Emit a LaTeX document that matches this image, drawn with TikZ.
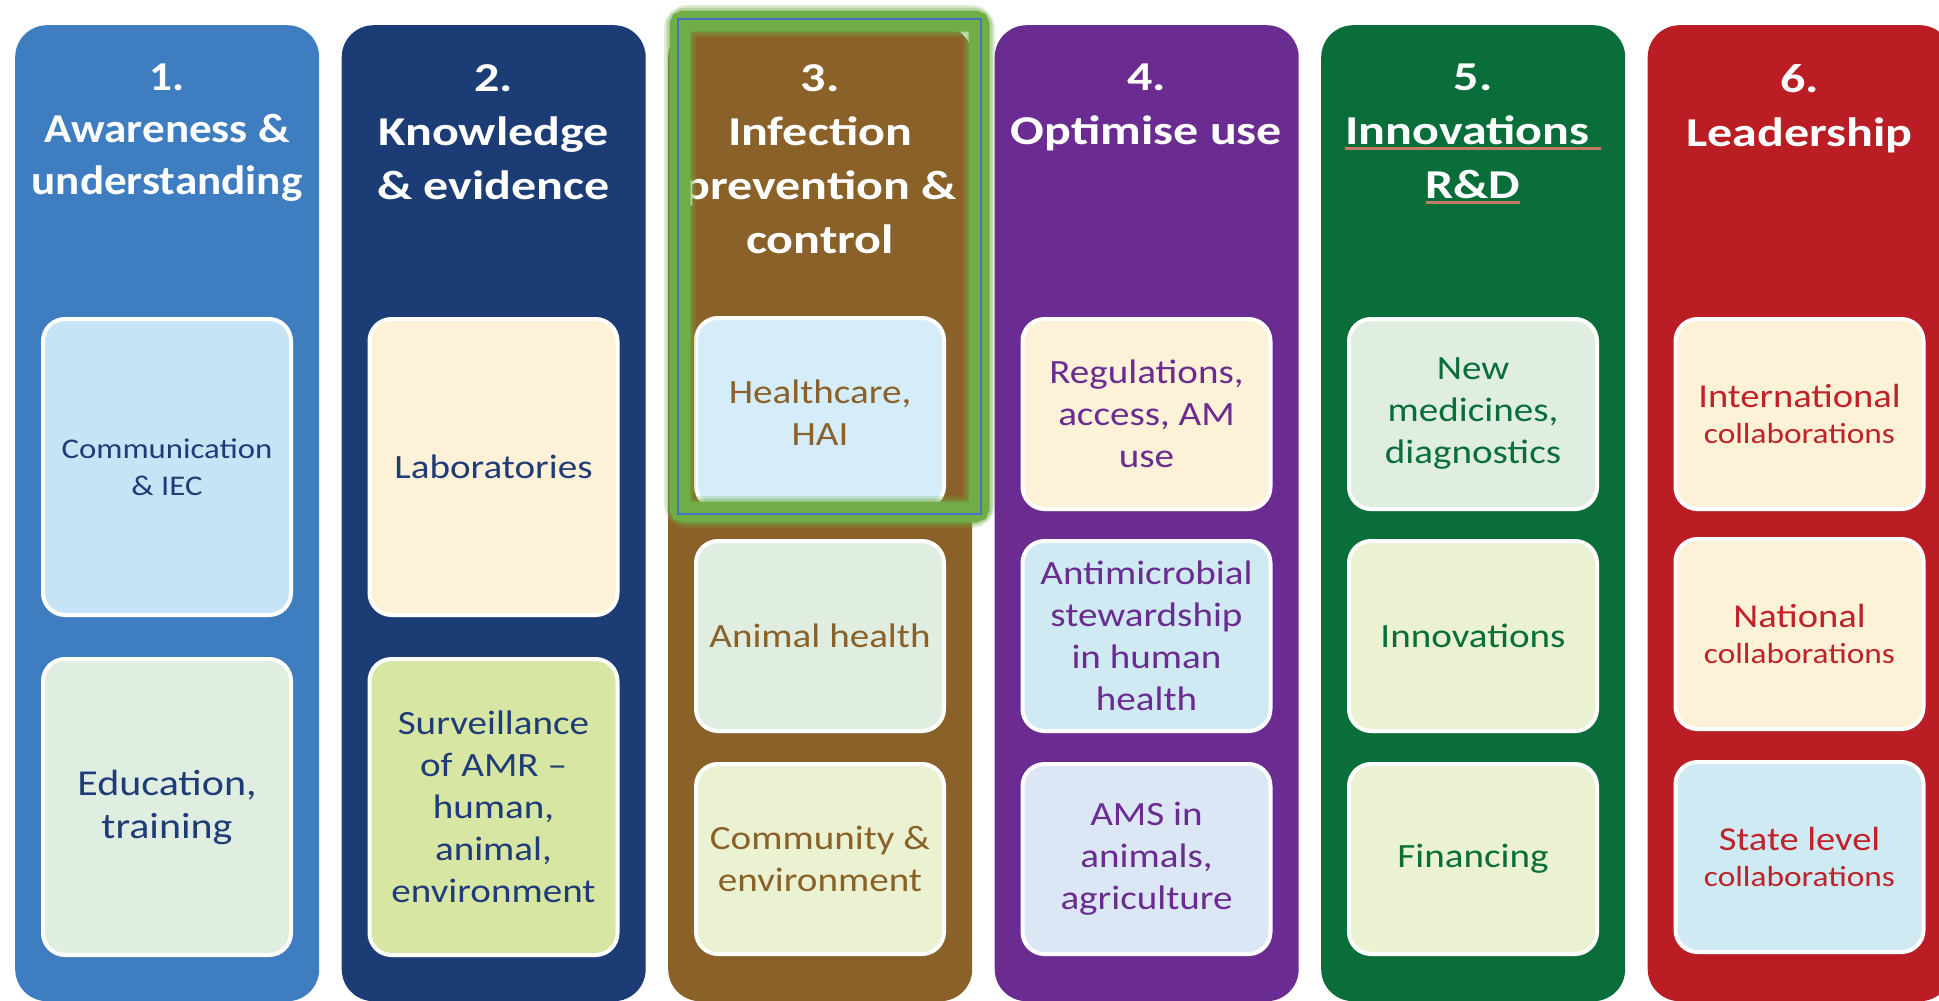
\documentclass[tikz,border=0pt]{standalone}
\usepackage{fontspec}
\setmainfont[FakeStretch=1.15]{Carlito}
\newfontfamily\hdrfont[FakeStretch=1.22]{Carlito}
\newfontfamily\hdrnarrow[FakeStretch=1.10]{Carlito}
\usetikzlibrary{shadows}
\definecolor{cA}{HTML}{3E7DC0}
\definecolor{cB}{HTML}{1C3C76}
\definecolor{cC}{HTML}{8A6229}
\definecolor{cD}{HTML}{6A2C90}
\definecolor{cE}{HTML}{0A6E3B}
\definecolor{cF}{HTML}{BA1D23}
\definecolor{tA}{HTML}{1F3C78}
\definecolor{tF}{HTML}{C0222A}
\definecolor{fBlue}{HTML}{C7E4F7}
\definecolor{fSage}{HTML}{DFEEE0}
\definecolor{fCream}{HTML}{FDF2D8}
\definecolor{fLime}{HTML}{D8E6A4}
\definecolor{fSky}{HTML}{D5ECF9}
\definecolor{fPale}{HTML}{EBF2D2}
\definecolor{fAqua}{HTML}{CFEAF3}
\definecolor{fLav}{HTML}{DCE7F5}
\definecolor{ulcol}{HTML}{C27A66}
\definecolor{glowc}{HTML}{70AD47}
\definecolor{selc}{HTML}{4472C4}
\newcommand\myredul[1]{\setbox0\hbox{#1}\rlap{\color{ulcol}\rule[-5pt]{\wd0}{2.5pt}}\box0}
\tikzset{
  colbox/.style={draw=none, rounded corners=32pt, minimum width=304pt, minimum height=976pt, anchor=north west, inner sep=0pt},
  hdr/.style={text=white, font=\hdrfont\bfseries\fontsize{41}{54}\selectfont, align=center, anchor=north, inner sep=0pt},
  cell/.style={draw=white, line width=4pt, rounded corners=22pt, minimum width=248pt, inner sep=0pt, align=center,
    font=\fontsize{34}{42}\selectfont, drop shadow={opacity=0.15, shadow xshift=0pt, shadow yshift=-3pt}},
  tall/.style={minimum height=296pt},
  short/.style={minimum height=190pt},
  small/.style={font=\fontsize{28.5}{37}\selectfont},
  big/.style={font=\fontsize{36.5}{43}\selectfont}
}
\begin{document}
\begin{tikzpicture}[x=1pt,y=-1pt]
\useasboundingbox (0,0) rectangle (1939,1001);
\fill[white] (0,0) rectangle (1939,1001);
\begin{scope}
\clip (0,0) rectangle (1939,1001);
% columns
\node[colbox, fill=cA] (col1) at (15,25) {};
\node[colbox, fill=cB] (col2) at (341.5,25) {};
\node[colbox, fill=cC] (col3) at (668,25) {};
\node[colbox, fill=cD] (col4) at (994.5,25) {};
\node[colbox, fill=cE] (col5) at (1321,25) {};
\node[colbox, fill=cF] (col6) at (1647.5,25) {};
% headers
\node[hdr, font=\hdrnarrow\bfseries\fontsize{41}{52}\selectfont] (h1) at (167,64) {1.\\Awareness \&\\understanding};
\node[hdr] (h2) at (493.5,64) {2.\\Knowledge\\\& evidence};
\node[hdr] (h3) at (820,64) {3.\\Infection\\prevention \&\\control};
\node[hdr] (h4) at (1146.5,64) {4.\\Optimise use};
\node[hdr] (h5) at (1473,64) {5.\\\myredul{Innovations\ }\\\myredul{R\&D}};
\node[hdr] (h6) at (1799.5,64) {6.\\Leadership};
% column 1
\node[cell, tall, fill=fBlue, text=tA, small] (b11) at (167,467) {Communication\\\& IEC};
\node[cell, tall, fill=fSage, text=tA, big] (b12) at (167,807) {Education,\\training};
% column 2
\node[cell, tall, fill=fCream, text=tA] (b21) at (493.5,467) {Laboratories};
\node[cell, tall, fill=fLime, text=tA] (b22) at (493.5,807) {Surveillance\\of AMR --\\human,\\animal,\\environment};
% column 3
\node[cell, short, fill=fSky, text=cC] (b31) at (820,413) {Healthcare,\\HAI};
\node[cell, short, fill=fSage, text=cC] (b32) at (820,636) {Animal health};
\node[cell, short, fill=fPale, text=cC] (b33) at (820,859) {Community \&\\environment};
% column 4
\node[cell, short, fill=fCream, text=cD] (b41) at (1146.5,414) {Regulations,\\access, AM\\use};
\node[cell, short, fill=fAqua, text=cD] (b42) at (1146.5,636) {Antimicrobial\\stewardship\\in human\\health};
\node[cell, short, fill=fLav, text=cD] (b43) at (1146.5,859) {AMS in\\animals,\\agriculture};
% column 5
\node[cell, short, fill=fSage, text=cE] (b51) at (1473,414) {New\\medicines,\\diagnostics};
\node[cell, short, fill=fPale, text=cE] (b52) at (1473,636) {Innovations};
\node[cell, short, fill=fPale, text=cE] (b53) at (1473,859) {Financing};
% column 6
\node[cell, short, fill=fCream, text=tF] (b61) at (1799.5,414) {{\fontsize{33.5}{40}\selectfont International}\\[-6pt]{\fontsize{29}{34}\selectfont collaborations}};
\node[cell, short, fill=fCream, text=tF] (b62) at (1799.5,634) {{\fontsize{33.5}{40}\selectfont National}\\[-6pt]{\fontsize{29}{34}\selectfont collaborations}};
\node[cell, short, fill=fAqua, text=tF] (b63) at (1799.5,857) {{\fontsize{33.5}{40}\selectfont State level}\\[-6pt]{\fontsize{29}{34}\selectfont collaborations}};
% selection glow on pillar 3
\draw[glowc, line width=32pt, opacity=0.22, rounded corners=8pt] (680,21) rectangle (979,512);
\draw[glowc, line width=27pt, opacity=0.35, rounded corners=6pt] (680,21) rectangle (979,512);
\draw[glowc, line width=21pt, rounded corners=4pt] (680,21) rectangle (979,512);
\draw[selc, line width=1.6pt] (678,19) rectangle (981,514);
\end{scope}
\end{tikzpicture}
\end{document}
